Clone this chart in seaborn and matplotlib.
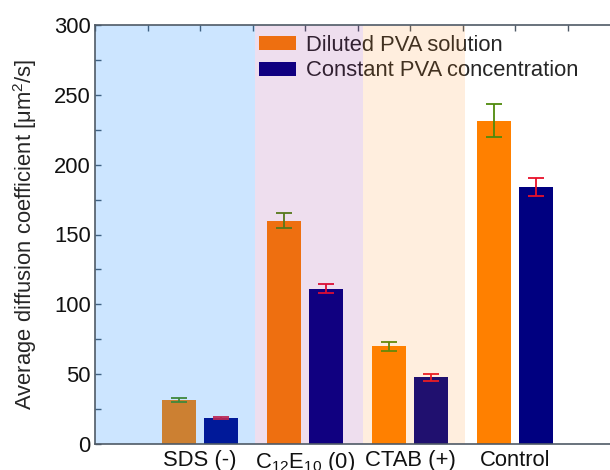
import numpy as np
import pandas as pd
import matplotlib
matplotlib.use("Agg")
import matplotlib.pyplot as plt
from matplotlib.ticker import MultipleLocator
import seaborn as sns

# Surfactant conditions and measured diffusion coefficients (μm²/s)
categories = ["SDS (-)", "C$_{12}$E$_{10}$ (0)", "CTAB (+)", "Control"]
series = ["Diluted PVA solution", "Constant PVA concentration"]
diluted_mean = [31.5, 160.0, 70.0, 231.5]
diluted_err = [1.5, 5.5, 3.2, 11.7]
constant_mean = [18.8, 111.3, 47.8, 184.0]
constant_err = [0.7, 3.2, 2.4, 6.3]

df = pd.DataFrame({
    "condition": categories * 2,
    "series": [series[0]] * 4 + [series[1]] * 4,
    "D": diluted_mean + constant_mean,
})
errors = {series[0]: diluted_err, series[1]: constant_err}

sns.set_theme(style="white")
plt.rcParams["font.family"] = ["Liberation Sans", "DejaVu Sans"]
plt.rcParams["mathtext.default"] = "regular"
FS = 15.8

fig = plt.figure(figsize=(6.1, 4.7), dpi=100)
ax = fig.add_axes([95 / 610, 26 / 470, 525 / 610, 419 / 470])

bar_colors = {series[0]: "#ff8000", series[1]: "#000080"}
sns.barplot(data=df, x="condition", y="D", hue="series", order=categories,
            hue_order=series, palette=bar_colors, width=0.8, gap=0.2,
            saturation=1, linewidth=0, ax=ax, zorder=1)

err_colors = {series[0]: "#4f8a0c", series[1]: "#e8102a"}
for container, name in zip(ax.containers, series):
    xs = [p.get_x() + p.get_width() / 2 for p in container.patches]
    ys = [p.get_height() for p in container.patches]
    ax.errorbar(xs, ys, yerr=errors[name], fmt="none", ecolor=err_colors[name],
                elinewidth=1.3, capsize=6, capthick=1.3, zorder=1.5)

# Tinted regions by surfactant charge, laid over the bars
ax.axvspan(-1.0, 0.52, color="#0080ff", alpha=0.2, lw=0, zorder=2)
ax.axvspan(0.52, 1.55, color="#800080", alpha=0.13, lw=0, zorder=2)
ax.axvspan(1.55, 2.52, color="#ff8000", alpha=0.13, lw=0, zorder=2)

ax.set_xlim(-1.0, 4.0)
ax.set_ylim(0, 300)
ax.yaxis.set_major_locator(MultipleLocator(50))
ax.yaxis.set_minor_locator(MultipleLocator(25))
ax.xaxis.set_minor_locator(MultipleLocator(0.5))

spine_col = "#4f5a66"
for side in ["left", "bottom", "top"]:
    ax.spines[side].set_color(spine_col)
    ax.spines[side].set_linewidth(1.2)
ax.spines["right"].set_visible(False)

ax.tick_params(axis="x", which="both", bottom=False, top=True, direction="in",
               length=4, width=1, color=spine_col, labelbottom=True,
               labelsize=FS, pad=4)
ax.tick_params(axis="y", which="both", left=True, right=False, direction="in",
               length=4, width=1, color=spine_col, labelsize=FS, pad=3)
ax.set_xlabel("")
ax.set_ylabel("Average diffusion coefficient [μm$^2$/s]", fontsize=FS, labelpad=11)
for lbl in ax.get_xticklabels() + ax.get_yticklabels():
    lbl.set_color("#111111")

handles, labels = ax.get_legend_handles_labels()
leg = ax.legend(handles, labels, loc="upper left",
                bbox_to_anchor=(259 / 610, 1 - 35 / 470),
                bbox_transform=fig.transFigure, frameon=False, fontsize=FS,
                handlelength=1.7, handleheight=0.6, handletextpad=0.42,
                labelspacing=0.2, borderpad=0, borderaxespad=0)
leg.set_zorder(1.8)

fig.savefig("out.png", dpi=100)
